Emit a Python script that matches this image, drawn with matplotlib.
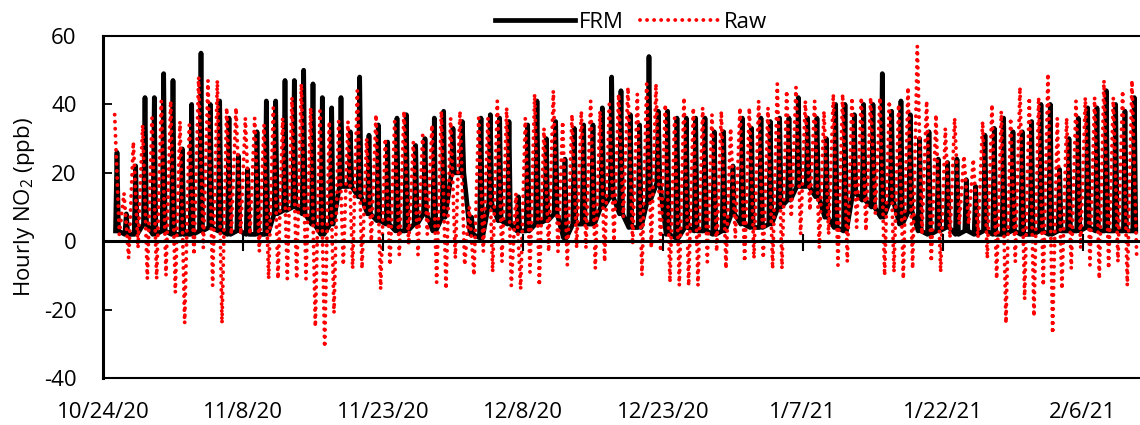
import numpy as np
import pandas as pd
import matplotlib
matplotlib.use("Agg")
import matplotlib.pyplot as plt

plt.rcParams["font.family"] = ["Open Sans", "DejaVu Sans"]
plt.rcParams["mathtext.default"] = "regular"
plt.rcParams["axes.unicode_minus"] = False

start = pd.Timestamp("2020-10-24")
days = np.arange(1, 111)

# daily peak / daily minimum of the hourly NO2 record (ppb)
frm_high = [26, 8, 22, 42, 42, 49, 47, 27, 40, 55, 40, 41, 36, 25, 21, 32, 41, 41, 47, 47,
            50, 46, 42, 39, 42, 32, 48, 31, 34, 29, 36, 37, 28, 30, 36, 38, 33, 35, 7, 36,
            37, 36, 35, 13, 34, 41, 30, 35, 24, 33, 34, 34, 39, 48, 44, 37, 34, 54, 38, 38,
            36, 36, 36, 36, 32, 32, 22, 36, 33, 36, 35, 36, 36, 42, 36, 36, 30, 40, 40, 37,
            40, 40, 49, 38, 41, 37, 30, 32, 24, 23, 24, 18, 16, 31, 33, 36, 32, 32, 35, 40,
            40, 21, 30, 36, 39, 39, 44, 40, 38, 42]
frm_low = [3, 2, 2, 5, 2, 3, 2, 2, 2, 3, 4, 3, 2, 3, 2, 2, 2, 8, 9, 10,
           8, 5, 2, 5, 16, 16, 13, 8, 6, 5, 3, 3, 5, 8, 3, 7, 20, 20, 2, 1,
           11, 6, 5, 3, 3, 5, 6, 8, 1, 5, 5, 5, 10, 13, 8, 4, 4, 12, 17, 2,
           1, 4, 3, 3, 2, 3, 8, 5, 4, 4, 5, 10, 12, 16, 16, 13, 7, 4, 3, 14,
           12, 10, 7, 12, 5, 9, 3, 2, 3, 4, 2, 3, 2, 3, 2, 2, 3, 2, 2, 3,
           2, 3, 3, 3, 4, 3, 3, 3, 3, 3]
raw_high = [37, 14, 29, 34, 36, 41, 41, 35, 34, 48, 47, 47, 39, 39, 36, 36, 34, 39, 36, 42,
            46, 39, 38, 35, 35, 35, 44, 30, 37, 30, 35, 38, 29, 31, 34, 38, 36, 38, 10, 36,
            36, 41, 39, 14, 36, 43, 33, 44, 35, 37, 38, 41, 38, 40, 43, 45, 43, 46, 46, 40,
            36, 42, 39, 39, 37, 38, 33, 39, 39, 41, 39, 46, 44, 45, 41, 41, 38, 43, 43, 42,
            42, 42, 42, 41, 40, 45, 57, 41, 37, 33, 36, 25, 24, 35, 40, 38, 36, 45, 42, 42,
            49, 36, 36, 41, 42, 42, 47, 42, 44, 47]
raw_low = [2, -5, -2, -11, -11, -10, -15, -24, -4, -2, -13, -24, 2, 2, 2, -3, -11, -11, -11, -11,
           -11, -25, -31, -21, -7, -8, -8, 0, -14, -7, -4, -1, -4, 2, -12, -14, -5, -7, -10, -3,
           -9, -6, -13, -14, -9, -13, -3, -3, -7, -2, -2, -8, -6, 0, 7, -1, -10, -2, -3, -12,
           -13, -13, -13, -6, -3, -8, 1, -6, -5, -5, -8, -8, 7, 2, 9, -2, 2, -7, -6, 4,
           3, 8, -10, -9, -11, -8, 2, -6, -9, 1, 5, 5, 1, -5, -11, -24, -6, -17, -22, -13,
           -27, -14, -8, -2, -7, -11, -8, -6, -13, -4]

tick_dates = pd.date_range("2020-10-24", "2021-02-06", freq="15D")
tick_labels = [f"{d.month}/{d.day}/{d:%y}" for d in tick_dates]


def day_times(offsets):
    cols = [(start + pd.to_timedelta(days + off, unit="D")).values for off in offsets]
    return np.column_stack(cols).ravel()


# FRM: overnight low, daytime peak, back down to the low -> one bar per day
t_frm = day_times([0.34, 0.50, 0.66])
frm = np.column_stack([frm_low, frm_high, frm_low]).ravel()
# Raw sensor: peak then minimum
t_raw = day_times([0.25, 0.75])
raw = np.column_stack([raw_high, raw_low]).ravel()

fig = plt.figure(figsize=(11.4, 4.25), dpi=100)
ax = fig.add_axes([103 / 1140, 1 - 378 / 425, 112 * 9.333 / 1140, (378 - 36) / 425])

ax.plot(t_frm, frm, color="black", lw=3.4, solid_joinstyle="round", label="FRM", zorder=2)
ax.plot(t_raw, raw, color="red", lw=2.8, linestyle=(0, (0.01, 1.8)), dash_capstyle="round",
        label="Raw", zorder=2.5)

ax.set_xlim(start, start + pd.Timedelta(days=112))
ax.set_ylim(-40, 60)
ax.set_yticks([-40, -20, 0, 20, 40, 60])
ax.set_xticks(tick_dates)
ax.set_xticklabels(tick_labels)

ax.axhline(0, color="black", lw=2.2, zorder=3)
ax.vlines(tick_dates[1:], -2.9, 2.1, color="black", lw=1.5, zorder=3)

ax.tick_params(axis="x", length=0, pad=17, labelsize=16)
ax.tick_params(axis="y", direction="in", length=6.5, width=1.3, pad=19, labelsize=16)
for side in ["top", "bottom"]:
    ax.spines[side].set_linewidth(1.5)
ax.spines["left"].set_linewidth(2.2)
ax.spines["right"].set_visible(False)

ax.set_ylabel("Hourly NO$_2$ (ppb)", fontsize=16)
ax.yaxis.set_label_coords(-0.063, 0.5)

ax.legend(loc="center", bbox_to_anchor=(631 / 1140, 1 - 22 / 425), bbox_transform=fig.transFigure,
          ncol=2, frameon=False, fontsize=16, handlelength=3.6, handletextpad=0.2,
          columnspacing=0.7, borderpad=0)

fig.savefig("out.png", dpi=100)
